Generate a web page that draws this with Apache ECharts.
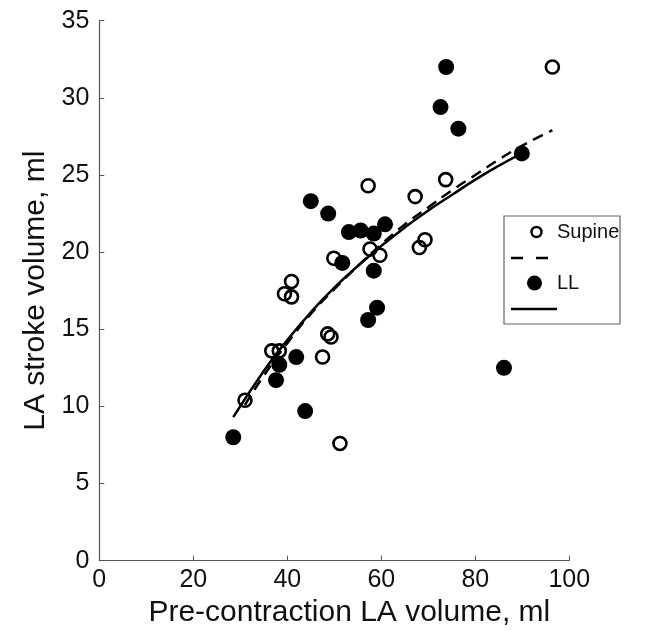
<!DOCTYPE html>
<html>
<head>
<meta charset="utf-8">
<script src="https://cdn.jsdelivr.net/npm/echarts@6/dist/echarts.min.js"></script>
<style>html,body{margin:0;padding:0;background:#fff}#c{width:670px;height:631px}</style>
</head>
<body>
<div id="c"></div>
<script>
// Supine (open circles): [pre-contraction LA volume, LA stroke volume]
var supineX = [31.0, 36.7, 38.3, 39.4, 40.9, 40.9, 47.5, 48.6, 49.3, 49.9, 51.2, 57.2, 57.6, 59.7, 67.2, 68.1, 69.3, 73.7, 96.4];
var supineY = [10.4, 13.6, 13.6, 17.3, 18.1, 17.1, 13.2, 14.7, 14.5, 19.6, 7.6, 24.3, 20.2, 19.8, 23.6, 20.3, 20.8, 24.7, 32.0];
// LL (filled circles)
var llX = [28.5, 37.6, 38.3, 41.9, 43.8, 45.0, 48.7, 51.7, 53.1, 55.6, 57.2, 58.4, 58.4, 59.1, 60.8, 72.6, 73.8, 76.4, 86.1, 89.9];
var llY = [8.0, 11.7, 12.7, 13.2, 9.7, 23.3, 22.5, 19.3, 21.3, 21.4, 15.6, 21.2, 18.8, 16.4, 21.8, 29.4, 32.0, 28.0, 12.5, 26.4];
// Fitted curves
var supineFitX = [31, 35, 40, 45, 50, 55, 60, 65, 70, 75, 80, 85, 90, 96.4];
var supineFitY = [10.1, 12.0, 14.1, 16.0, 17.6, 19.1, 20.5, 21.8, 22.9, 24.0, 25.0, 26.0, 26.9, 27.9];
var llFitX = [28.5, 35, 40, 45, 50, 55, 60, 65, 70, 75, 80, 85, 89.9];
var llFitY = [9.3, 12.3, 14.3, 16.1, 17.7, 19.1, 20.4, 21.6, 22.7, 23.7, 24.7, 25.6, 26.4];
var xTicks = [0, 20, 40, 60, 80, 100];
var yTicks = [0, 5, 10, 15, 20, 25, 30, 35];

function zip(a, b) { return a.map(function (v, i) { return [v, b[i]]; }); }

var chart = echarts.init(document.getElementById('c'), null, { renderer: 'canvas' });
var FONT = 'Liberation Sans, Arial, Helvetica, sans-serif';
var axisCol = '#555';
chart.setOption({
  backgroundColor: '#fff',
  animation: false,
  grid: { left: 99.3, right: 100.7, top: 20.7, bottom: 70.3, containLabel: false, outerBoundsMode: 'none' },
  xAxis: {
    type: 'value', min: xTicks[0], max: xTicks[xTicks.length - 1], interval: 20,
    name: 'Pre-contraction LA volume, ml', nameLocation: 'middle', nameGap: 30,
    nameTextStyle: { fontFamily: FONT, fontSize: 30, color: '#111', verticalAlign: 'top', padding: [0, 0, 0, 30] },
    axisLine: { show: true, onZero: false, lineStyle: { color: axisCol, width: 1.2 } },
    axisTick: { show: true, inside: true, length: 5, lineStyle: { color: axisCol } },
    axisLabel: { fontFamily: FONT, fontSize: 25, color: '#111', margin: 7 },
    splitLine: { show: false }
  },
  yAxis: {
    type: 'value', min: yTicks[0], max: yTicks[yTicks.length - 1], interval: 5,
    name: 'LA stroke volume, ml', nameLocation: 'middle', nameGap: 48,
    nameTextStyle: { fontFamily: FONT, fontSize: 30, color: '#111' },
    axisLine: { show: true, onZero: false, lineStyle: { color: axisCol, width: 1.2 } },
    axisTick: { show: true, inside: true, length: 5, lineStyle: { color: axisCol } },
    axisLabel: { fontFamily: FONT, fontSize: 25, color: '#111', margin: 10 },
    splitLine: { show: false }
  },
  series: [
    { name: 'Supine fit', type: 'line', data: zip(supineFitX, supineFitY), smooth: true, symbol: 'none',
      lineStyle: { color: '#000', width: 2.5, type: [11, 7] }, z: 3 },
    { name: 'LL fit', type: 'line', data: zip(llFitX, llFitY), smooth: true, symbol: 'none',
      lineStyle: { color: '#000', width: 2.5 }, z: 3 },
    { name: 'LL', type: 'scatter', data: zip(llX, llY), symbol: 'circle', symbolSize: 16,
      itemStyle: { color: '#000', opacity: 1 }, z: 4 },
    { name: 'Supine', type: 'scatter', data: zip(supineX, supineY), symbol: 'circle', symbolSize: 13,
      itemStyle: { color: 'rgba(255,255,255,0)', borderColor: '#000', borderWidth: 2.6, opacity: 1 }, z: 5 }
  ],
  graphic: [
    { type: 'rect', shape: { x: 504, y: 216, width: 116, height: 108 },
      style: { fill: '#fff', stroke: '#666', lineWidth: 1.2 }, z: 10 },
    { type: 'circle', shape: { cx: 536.5, cy: 232, r: 5 },
      style: { fill: '#fff', stroke: '#000', lineWidth: 2.4 }, z: 11 },
    { type: 'text', style: { x: 557, y: 232, text: 'Supine', font: '20px ' + FONT, fill: '#111', textVerticalAlign: 'middle' }, z: 11 },
    { type: 'line', shape: { x1: 511, y1: 258, x2: 549, y2: 258 },
      style: { stroke: '#000', lineWidth: 2.6, lineDash: [12, 13] }, z: 11 },
    { type: 'circle', shape: { cx: 534.5, cy: 283, r: 7.5 },
      style: { fill: '#000' }, z: 11 },
    { type: 'text', style: { x: 557, y: 283, text: 'LL', font: '20px ' + FONT, fill: '#111', textVerticalAlign: 'middle' }, z: 11 },
    { type: 'line', shape: { x1: 511, y1: 309, x2: 557, y2: 309 },
      style: { stroke: '#000', lineWidth: 2.6 }, z: 11 }
  ]
});
</script>
</body>
</html>
